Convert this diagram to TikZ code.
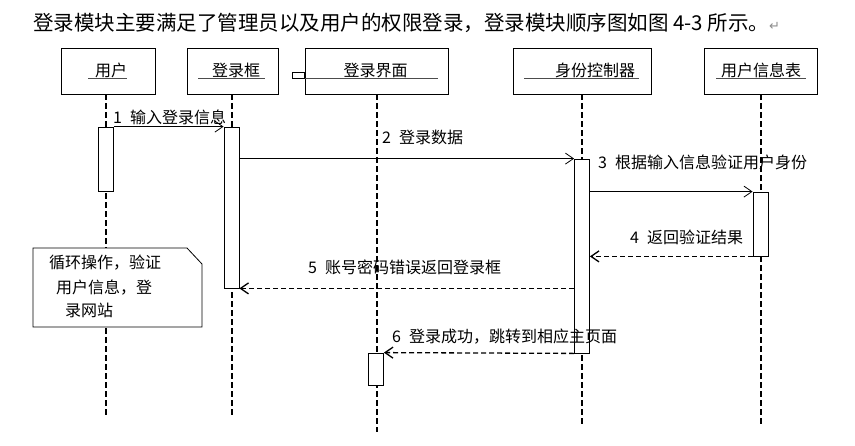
\documentclass[tikz,border=0pt]{standalone}
\usepackage{fontspec}
\setmainfont{Noto Sans CJK SC}
\newfontfamily\symfont{DejaVu Sans}
\usetikzlibrary{arrows.meta}

\begin{document}
\begin{tikzpicture}
        [x=1pt, y=-1pt,
        obj/.style={rectangle, draw, line width=0.8pt, minimum width=#1, minimum height=46pt, inner sep=0pt},
        act/.style={rectangle, draw, fill=white, line width=0.8pt, minimum width=15pt, minimum height=#1, inner sep=0pt},
        objlabel/.style={font=\fontsize{16}{16}\selectfont, inner sep=0pt},
        uline/.style={line width=0.8pt, black!70},
        lifeline/.style={line width=1.3pt, dash pattern=on 6pt off 3pt},
        msg/.style={line width=0.8pt, -{Straight Barb[length=8pt, width=11pt]}},
        reply/.style={msg, line width=1.3pt, dash pattern=on 5pt off 3pt},
        lbl/.style={font=\fontsize{16}{16}\selectfont, anchor=west, inner sep=0pt},
        notebox/.style={draw, fill=white, line width=0.8pt}]

        \useasboundingbox (0,0) rectangle (855,445);

        % heading
        \node[anchor=west, inner sep=0pt, font=\fontsize{20.5}{20.5}\selectfont] (title) at (33,23)
            {登录模块主要满足了管理员以及用户的权限登录，登录模块顺序图如图 4-3 所示。{\symfont\color{black!45}\fontsize{13}{13}\selectfont ↵}};

        % objects
        \node[obj=94pt] (user) at (108,71) {};
        \node[obj=91pt] (loginbox) at (232.5,71) {};
        \node[obj=143pt] (loginpage) at (376.5,71) {};
        \node[obj=138pt] (idctrl) at (582,71) {};
        \node[obj=113pt] (usertable) at (760.5,71) {};

        \node[objlabel] (userlbl) at (111,70) {用户};
        \node[objlabel] (loginboxlbl) at (236,70) {登录框};
        \node[objlabel] (loginpagelbl) at (375.5,70) {登录界面};
        \node[objlabel] (idctrllbl) at (595,70) {身份控制器};
        \node[objlabel] (usertablelbl) at (761,70) {用户信息表};

        \draw[uline] (88,78) -- (127,78);
        \draw[uline] (198,78) -- (265,78);
        \draw[uline] (292,78) -- (438,78);
        \draw[uline] (524,78) -- (639,78);
        \draw[uline] (716,78) -- (806,78);
        \draw[line width=0.8pt] (292,72) rectangle (304,78);

        % lifelines
        \coordinate (userend) at (106,416);
        \coordinate (loginboxend) at (232,416);
        \coordinate (loginpageend) at (377,432);
        \coordinate (idctrlend) at (582,427);
        \coordinate (usertableend) at (761,427);

        \draw[lifeline] (userend |- user.south) -- (userend);
        \draw[lifeline] (loginboxend |- loginbox.south) -- (loginboxend);
        \draw[lifeline] (loginpageend |- loginpage.south) -- (loginpageend);
        \draw[lifeline] (idctrlend |- idctrl.south) -- (idctrlend);
        \draw[lifeline] (usertableend |- usertable.south) -- (usertableend);

        % note
        \draw[notebox] (33,248) -- (187,248) -- (202,264) -- (202,327) -- (33,327) -- cycle;
        \node[lbl] (note1) at (49,263) {循环操作，验证};
        \node[lbl] (note2) at (56,288) {用户信息，登};
        \node[lbl] (note3) at (65,310) {录网站};

        % activations
        \node[act=64pt] (a1) at (106,159) {};
        \node[act=161pt] (a2) at (231.5,207.5) {};
        \node[act=194pt] (a3) at (582,256) {};
        \node[act=64pt] (a4) at (760.5,224) {};
        \node[act=32pt] (a5) at (376,369) {};

        % messages
        \draw[msg] (a1.north east) -- (a2.north west);
        \draw[msg] (a2.east |- a3.north) -- (a3.north west);
        \draw[msg] (a3.east |- a4.north) -- (a4.north west);
        \draw[reply] (a4.south west) -- (a3.east |- a4.south);
        \draw[reply] (a3.west |- a2.south) -- (a2.south east);
        \draw[reply] (a3.south west) -- (a5.north east);

        \node[lbl] (m1) at (113,117) {1\enspace 输入登录信息};
        \node[lbl] (m2) at (382,137) {2\enspace 登录数据};
        \node[lbl] (m3) at (598,162) {3\enspace 根据输入信息验证用户身份};
        \node[lbl] (m4) at (630,237) {4\enspace 返回验证结果};
        \node[lbl] (m5) at (308,267) {5\enspace 账号密码错误返回登录框};
        \node[lbl] (m6) at (392,337) {6\enspace 登录成功，跳转到相应主页面};

    \end{tikzpicture}
\end{document}
